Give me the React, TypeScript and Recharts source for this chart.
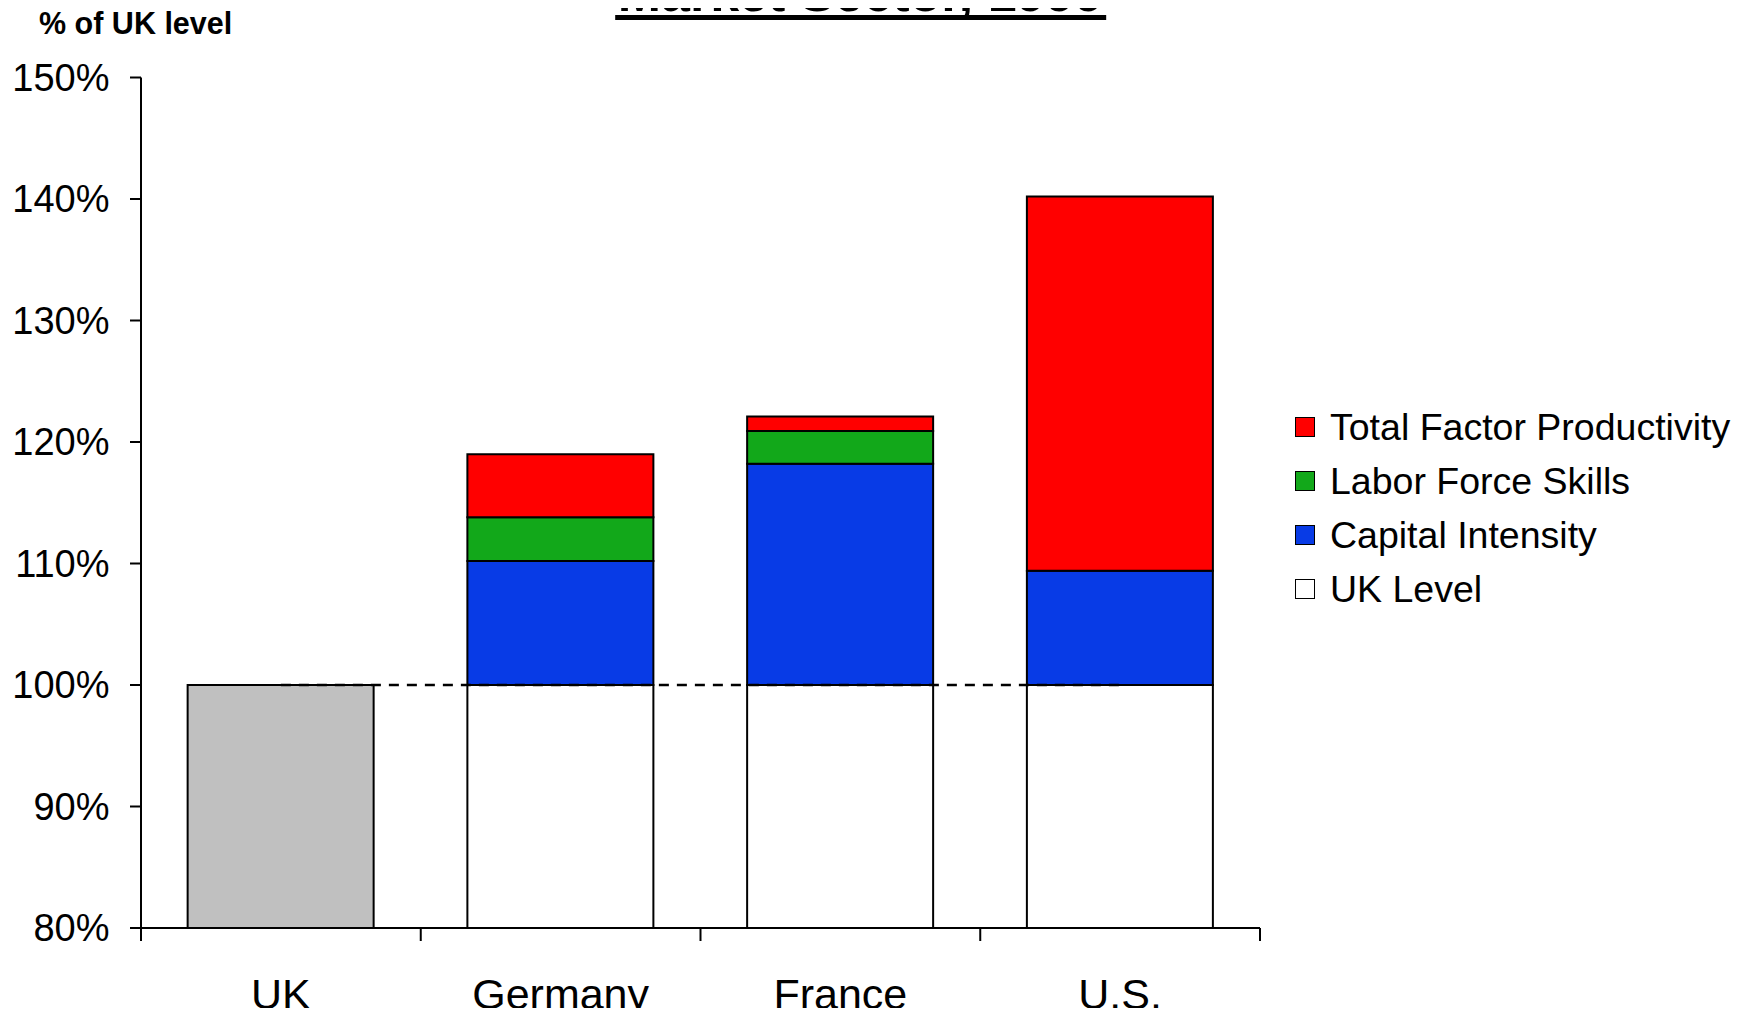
import { Bar, BarChart, Cell, ReferenceLine, XAxis, YAxis } from 'recharts'

const countries = ['UK', 'Germany', 'France', 'U.S.']
const ukLevel = [100, 100, 100, 100]
const capitalIntensity = [0, 10.2, 18.2, 9.4]
const laborSkills = [0, 3.6, 2.7, 0]
const tfp = [0, 5.2, 1.2, 30.8]
const yTicks = [80, 90, 100, 110, 120, 130, 140, 150]

const series = [
  { key: 'tfp', name: 'Total Factor Productivity', color: '#ff0000' },
  { key: 'labor', name: 'Labor Force Skills', color: '#12a81a' },
  { key: 'capital', name: 'Capital Intensity', color: '#083be6' },
  { key: 'uk', name: 'UK Level', color: '#ffffff' },
]

const data = countries.map((c, i) => ({
  country: c,
  uk: ukLevel[i],
  capital: capitalIntensity[i],
  labor: laborSkills[i],
  tfp: tfp[i],
}))

const W = 1752
const H = 1016
const MARGIN = { top: 77.5, right: 492, bottom: 0, left: 0 }
const YAXIS_W = 141
const BAND = (W - MARGIN.right - YAXIS_W) / countries.length
const FONT = '"Liberation Sans", Arial, sans-serif'

// Excel-style category axis: tick marks sit between categories, labels in the middle
function CategoryTick(props: any) {
  const { x, y, payload, index } = props
  const axisY = y - 13
  return (
    <g>
      <line x1={x - BAND / 2} y1={axisY} x2={x - BAND / 2} y2={y} stroke="#000" strokeWidth={2} />
      {index === countries.length - 1 && (
        <line x1={x + BAND / 2} y1={axisY} x2={x + BAND / 2} y2={y} stroke="#000" strokeWidth={2} />
      )}
      <text x={x} y={y + 68} textAnchor="middle" fontSize={43} fontFamily={FONT} fill="#000">
        {payload.value}
      </text>
    </g>
  )
}

export default function App() {
  return (
    <div style={{ position: 'relative', width: W, height: H, margin: -8, background: '#fff', overflow: 'hidden', fontFamily: FONT }}>
      <div style={{
        position: 'absolute', left: 860.5, top: -29, transform: 'translateX(-50%)',
        fontSize: 52, fontWeight: 700, lineHeight: '44px', whiteSpace: 'nowrap',
        borderBottom: '5.5px solid #000', padding: '0 3px',
      }}>
        Market Sector, 1999
      </div>
      <div style={{ position: 'absolute', left: 39, top: 7.5, fontSize: 30.5, fontWeight: 700, lineHeight: '30.5px', whiteSpace: 'nowrap' }}>
        % of UK level
      </div>

      <BarChart width={W} height={H} data={data} margin={MARGIN} barCategoryGap="16.67%">
        <XAxis
          dataKey="country"
          height={H - 928 - MARGIN.bottom}
          interval={0}
          tickSize={13}
          tickMargin={0}
          tickLine={false}
          axisLine={{ stroke: '#000', strokeWidth: 2 }}
          tick={<CategoryTick />}
        />
        <YAxis
          width={YAXIS_W}
          domain={[80, 150]}
          ticks={yTicks}
          allowDataOverflow
          tickFormatter={(v: number) => `${v}%`}
          tickSize={11}
          tickMargin={20.5}
          tick={{ fontSize: 38, fill: '#000', fontFamily: FONT }}
          tickLine={{ stroke: '#000', strokeWidth: 2 }}
          axisLine={{ stroke: '#000', strokeWidth: 2 }}
        />
        <ReferenceLine
          segment={[{ x: 'UK', y: 100 }, { x: 'U.S.', y: 100 }]}
          stroke="#000"
          strokeWidth={2.5}
          strokeDasharray="10 8"
        />
        <Bar dataKey="uk" stackId="a" stroke="#000" strokeWidth={2} isAnimationActive={false}>
          {data.map(d => (
            <Cell key={d.country} fill={d.country === 'UK' ? '#c0c0c0' : '#ffffff'} />
          ))}
        </Bar>
        <Bar dataKey="capital" stackId="a" fill="#083be6" stroke="#000" strokeWidth={2} isAnimationActive={false} />
        <Bar dataKey="labor" stackId="a" fill="#12a81a" stroke="#000" strokeWidth={2} isAnimationActive={false} />
        <Bar dataKey="tfp" stackId="a" fill="#ff0000" stroke="#000" strokeWidth={2} isAnimationActive={false} />
      </BarChart>

      <div style={{ position: 'absolute', left: 1295, top: 400 }}>
        {series.map(s => (
          <div key={s.key} style={{ display: 'flex', alignItems: 'center', height: 54.1, lineHeight: '54px', fontSize: 37.5, whiteSpace: 'nowrap' }}>
            <span style={{ display: 'inline-block', width: 20, height: 20, boxSizing: 'border-box', border: '1.5px solid #000', background: s.color, marginRight: 15 }} />
            {s.name}
          </div>
        ))}
      </div>
    </div>
  )
}
